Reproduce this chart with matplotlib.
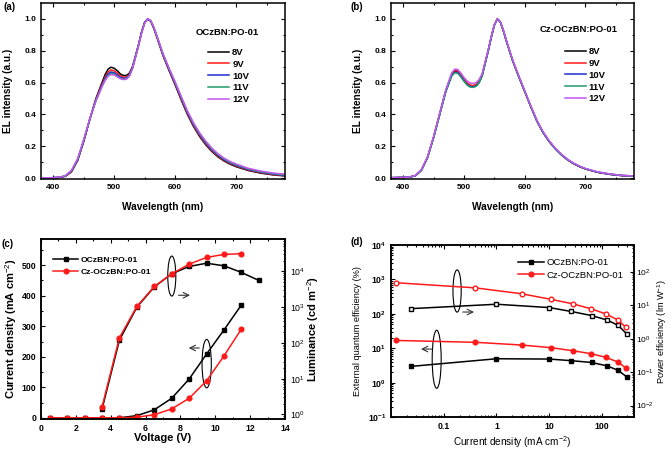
import matplotlib
matplotlib.use('Agg')
import matplotlib.pyplot as plt
from matplotlib.patches import Ellipse

plt.rcParams['font.family'] = ['Liberation Sans', 'DejaVu Sans']
plt.rcParams['mathtext.fontset'] = 'custom'
plt.rcParams['mathtext.rm'] = 'Liberation Sans'
plt.rcParams['mathtext.bf'] = 'Liberation Sans:bold'

# ---- data: EL spectra (a) OCzBN:PO-01 ----
wl = [380, 400, 410, 420, 430, 440, 450, 460, 470, 480, 485, 490, 495, 500, 505,
      510, 515, 520, 525, 530, 540, 545, 550, 555, 560, 565, 570, 580, 590, 600,
      610, 620, 630, 640, 650, 660, 670, 680, 690, 700, 720, 740, 760, 780]
volt_labels = ['8V', '9V', '10V', '11V', '12V']

a_8v = [0.002, 0.003, 0.005, 0.012, 0.040, 0.110, 0.230, 0.370, 0.500, 0.600, 0.650, 0.685, 0.697, 0.690, 0.675,
        0.655, 0.645, 0.645, 0.660, 0.700, 0.840, 0.920, 0.980, 1.000, 0.985, 0.940, 0.885, 0.770, 0.675, 0.585,
        0.490, 0.400, 0.325, 0.262, 0.210, 0.168, 0.134, 0.108, 0.088, 0.072, 0.048, 0.032, 0.021, 0.014]
a_9v = [0.002, 0.003, 0.005, 0.013, 0.042, 0.112, 0.232, 0.370, 0.495, 0.590, 0.635, 0.667, 0.680, 0.674, 0.660,
        0.643, 0.634, 0.635, 0.652, 0.695, 0.838, 0.918, 0.978, 1.000, 0.986, 0.942, 0.888, 0.773, 0.679, 0.590,
        0.496, 0.406, 0.331, 0.268, 0.216, 0.173, 0.139, 0.112, 0.092, 0.076, 0.051, 0.035, 0.023, 0.016]
a_10v = [0.002, 0.003, 0.005, 0.014, 0.045, 0.115, 0.235, 0.370, 0.490, 0.582, 0.625, 0.655, 0.667, 0.662, 0.649,
         0.634, 0.627, 0.629, 0.647, 0.692, 0.836, 0.916, 0.977, 1.000, 0.987, 0.944, 0.890, 0.776, 0.683, 0.595,
         0.502, 0.412, 0.337, 0.274, 0.222, 0.178, 0.144, 0.116, 0.096, 0.080, 0.054, 0.038, 0.026, 0.018]
a_11v = [0.002, 0.003, 0.006, 0.015, 0.047, 0.118, 0.238, 0.372, 0.487, 0.577, 0.618, 0.646, 0.657, 0.653, 0.641,
         0.628, 0.621, 0.624, 0.643, 0.689, 0.835, 0.915, 0.976, 1.000, 0.988, 0.946, 0.892, 0.779, 0.687, 0.600,
         0.508, 0.418, 0.343, 0.280, 0.228, 0.184, 0.149, 0.121, 0.100, 0.084, 0.058, 0.041, 0.029, 0.021]
a_12v = [0.002, 0.003, 0.006, 0.016, 0.050, 0.122, 0.242, 0.374, 0.485, 0.574, 0.613, 0.640, 0.651, 0.648, 0.637,
         0.625, 0.619, 0.622, 0.642, 0.688, 0.834, 0.914, 0.975, 1.000, 0.989, 0.948, 0.894, 0.782, 0.690, 0.604,
         0.512, 0.423, 0.348, 0.285, 0.233, 0.189, 0.154, 0.126, 0.105, 0.089, 0.062, 0.045, 0.033, 0.025]

# ---- data: EL spectra (b) Cz-OCzBN:PO-01 ----
b_8v = [0.003, 0.005, 0.007, 0.015, 0.050, 0.130, 0.255, 0.400, 0.545, 0.650, 0.672, 0.668, 0.645, 0.617, 0.594,
        0.580, 0.576, 0.582, 0.603, 0.645, 0.800, 0.885, 0.960, 1.000, 0.980, 0.925, 0.860, 0.740, 0.640, 0.545,
        0.450, 0.360, 0.288, 0.232, 0.186, 0.148, 0.117, 0.092, 0.073, 0.058, 0.037, 0.024, 0.016, 0.012]
b_9v = [0.003, 0.005, 0.007, 0.015, 0.050, 0.130, 0.256, 0.402, 0.548, 0.655, 0.677, 0.673, 0.650, 0.622, 0.599,
        0.585, 0.582, 0.588, 0.608, 0.649, 0.802, 0.886, 0.961, 1.000, 0.981, 0.926, 0.861, 0.741, 0.641, 0.546,
        0.451, 0.361, 0.289, 0.233, 0.187, 0.149, 0.118, 0.093, 0.074, 0.059, 0.038, 0.025, 0.017, 0.012]
b_10v = [0.003, 0.005, 0.007, 0.015, 0.049, 0.128, 0.253, 0.398, 0.542, 0.645, 0.666, 0.662, 0.640, 0.612, 0.589,
         0.576, 0.573, 0.579, 0.600, 0.643, 0.799, 0.884, 0.960, 1.000, 0.980, 0.925, 0.860, 0.741, 0.641, 0.546,
         0.451, 0.361, 0.289, 0.233, 0.187, 0.149, 0.118, 0.093, 0.074, 0.059, 0.038, 0.025, 0.017, 0.013]
b_11v = [0.003, 0.005, 0.007, 0.015, 0.049, 0.128, 0.252, 0.396, 0.540, 0.642, 0.662, 0.658, 0.636, 0.609, 0.586,
         0.573, 0.570, 0.577, 0.599, 0.642, 0.799, 0.884, 0.960, 1.000, 0.981, 0.926, 0.861, 0.742, 0.642, 0.547,
         0.452, 0.362, 0.290, 0.234, 0.188, 0.150, 0.119, 0.094, 0.075, 0.060, 0.039, 0.026, 0.018, 0.014]
b_12v = [0.003, 0.005, 0.008, 0.017, 0.053, 0.134, 0.260, 0.406, 0.553, 0.662, 0.685, 0.682, 0.660, 0.633, 0.611,
         0.598, 0.595, 0.600, 0.619, 0.657, 0.806, 0.889, 0.962, 1.000, 0.983, 0.929, 0.865, 0.746, 0.646, 0.551,
         0.456, 0.366, 0.294, 0.238, 0.191, 0.153, 0.121, 0.096, 0.077, 0.061, 0.040, 0.027, 0.018, 0.014]

# ---- data: J-V-L (c) ----
v_j = [0.5, 1.5, 2.5, 3.5, 4.5, 5.5, 6.5, 7.5, 8.5, 9.5, 10.5, 11.5]
j_oczbn = [0, 0, 0, 0, 0, 7, 26, 64, 127, 209, 288, 370]
j_cz = [0, 0, 0, 0, 0, 2, 10, 29, 64, 121, 203, 291]
v_l_oczbn = [3.5, 4.5, 5.5, 6.5, 7.5, 8.5, 9.5, 10.5, 11.5, 12.5]
l_oczbn = [1.4, 120, 1000, 3700, 8600, 13800, 17000, 14400, 9400, 5600]
v_l_cz = [3.5, 4.5, 5.5, 6.5, 7.5, 8.5, 9.5, 10.5, 11.5]
l_cz = [1.6, 140, 1050, 3800, 8600, 16000, 24700, 30000, 31400]

# ---- data: efficiencies (d) ----
j_d_oczbn = [0.024, 1.0, 10, 26, 63, 125, 200, 290]
eqe_oczbn = [3.0, 5.0, 4.9, 4.4, 3.9, 3.1, 2.3, 1.5]
pe_oczbn = [7.9, 10.7, 8.5, 6.5, 4.9, 3.6, 2.5, 1.4]
j_d_cz = [0.0125, 0.4, 3.0, 10.7, 28.6, 62, 117, 200, 280]
eqe_cz = [17, 15, 12.5, 10.5, 8.5, 7.0, 5.5, 4.0, 2.7]
pe_cz = [47, 33, 22, 15, 10.9, 7.8, 5.5, 3.6, 2.2]

colors = ['black', '#ff1a1a', '#1f2fd0', '#1f9a6a', '#c455f5']

fig = plt.figure(figsize=(6.71, 4.53), dpi=100)
W, H = 671.0, 453.0


def box(l, t, r, b):
    return [l / W, 1 - b / H, (r - l) / W, (b - t) / H]


def style(ax, size=6):
    ax.tick_params(which='both', direction='in', top=True, right=True, labelsize=size, width=0.8)
    ax.tick_params(which='major', length=3)
    ax.tick_params(which='minor', length=1.6)
    for lab in ax.get_xticklabels() + ax.get_yticklabels():
        lab.set_fontweight('bold')
    for s in ax.spines.values():
        s.set_linewidth(1.1)


def style_right(ax2, size=6.3, pad=3.5):
    ax2.tick_params(which='both', direction='in', labelsize=size, width=0.8, pad=pad)
    ax2.tick_params(which='major', length=3)
    ax2.tick_params(which='minor', length=1.6)
    for s in ax2.spines.values():
        s.set_linewidth(1.1)


def spectrum_panel(ax, series):
    for ys, c, lab in zip(series, colors, volt_labels):
        ax.plot(wl, ys, color=c, lw=1.1, label=lab)
    ax.set_xlim(380, 780)
    ax.set_ylim(-0.005, 1.1)
    ax.set_xticks([400, 500, 600, 700])
    ax.set_xticks([450, 550, 650, 750], minor=True)
    ax.set_yticks([0.0, 0.2, 0.4, 0.6, 0.8, 1.0])
    ax.set_yticks([0.1, 0.3, 0.5, 0.7, 0.9], minor=True)
    ax.set_yticklabels(['0.0', '0.2', '0.4', '0.6', '0.8', '1.0'])
    style(ax)
    ax.set_xlabel('Wavelength (nm)', fontsize=7.3, fontweight='bold', labelpad=8)
    ax.set_ylabel('EL intensity (a.u.)', fontsize=7.3, fontweight='bold', labelpad=8)


# (a)
ax_a = fig.add_axes(box(41, 3, 285, 179))
spectrum_panel(ax_a, [a_8v, a_9v, a_10v, a_11v, a_12v])
ax_a.text(0.635, 0.835, 'OCzBN:PO-01', transform=ax_a.transAxes, fontsize=6.8, fontweight='bold',
          ha='left', va='center')
ax_a.legend(loc='upper left', bbox_to_anchor=(0.685, 0.745), frameon=False,
            prop={'weight': 'bold', 'size': 6.8}, handlelength=2.2, handletextpad=0.35,
            labelspacing=0.3, borderpad=0, borderaxespad=0)
fig.text(3 / W, 1 - 7 / H, '(a)', fontsize=7, fontweight='bold', va='center')

# (b)
ax_b = fig.add_axes(box(391, 3, 634, 179))
spectrum_panel(ax_b, [b_8v, b_9v, b_10v, b_11v, b_12v])
ax_b.text(0.61, 0.85, 'Cz-OCzBN:PO-01', transform=ax_b.transAxes, fontsize=6.8, fontweight='bold',
          ha='left', va='center')
ax_b.legend(loc='upper left', bbox_to_anchor=(0.715, 0.75), frameon=False,
            prop={'weight': 'bold', 'size': 6.8}, handlelength=2.2, handletextpad=0.35,
            labelspacing=0.3, borderpad=0, borderaxespad=0)
fig.text(351 / W, 1 - 7 / H, '(b)', fontsize=7, fontweight='bold', va='center')

# (c)
ax_c = fig.add_axes(box(41, 239.3, 285, 418.7))
ax_c.plot(v_j, j_oczbn, '-s', color='black', lw=1.1, ms=3.2, label='OCzBN:PO-01')
ax_c.plot(v_j, j_cz, '-o', color='#ff1a1a', lw=1.1, ms=3.4, label='Cz-OCzBN:PO-01')
ax_c.set_xlim(0, 14)
ax_c.set_ylim(-3, 585)
ax_c.set_xticks(range(0, 15, 2))
ax_c.set_xticks(range(1, 14, 2), minor=True)
ax_c.set_yticks([0, 100, 200, 300, 400, 500])
ax_c.set_yticks([50, 150, 250, 350, 450, 550], minor=True)
style(ax_c, 6.3)
ax_c.tick_params(right=False)
ax_c.set_xlabel('Voltage (V)', fontsize=8, fontweight='bold', labelpad=0)
ax_c.set_ylabel('Current density (mA cm$^{-2}$)', fontsize=8, fontweight='bold', labelpad=2)
ax_c.legend(loc='upper left', bbox_to_anchor=(0.049, 0.905), frameon=False,
            prop={'weight': 'bold', 'size': 6.1}, handlelength=3.0, handletextpad=0.3,
            labelspacing=0.45, borderpad=0, borderaxespad=0)
axc2 = ax_c.twinx()
axc2.plot(v_l_oczbn, l_oczbn, '-s', color='black', lw=1.1, ms=3.2)
axc2.plot(v_l_cz, l_cz, '-o', color='#ff1a1a', lw=1.1, ms=3.4)
axc2.set_yscale('log')
axc2.set_ylim(10 ** -0.12, 10 ** 4.9)
style_right(axc2)
axc2.set_ylabel('Luminance (cd m$^{-2}$)', fontsize=8, fontweight='bold', labelpad=0)
ax_c.add_patch(Ellipse((0.536, 0.795), 0.033, 0.223, transform=ax_c.transAxes, fill=False, lw=0.8))
ax_c.annotate('', xy=(0.622, 0.688), xytext=(0.552, 0.688), xycoords='axes fraction',
              arrowprops=dict(arrowstyle='->', lw=0.8, color='#333333'))
ax_c.add_patch(Ellipse((0.679, 0.307), 0.038, 0.27, transform=ax_c.transAxes, fill=False, lw=0.8))
ax_c.annotate('', xy=(0.594, 0.394), xytext=(0.66, 0.394), xycoords='axes fraction',
              arrowprops=dict(arrowstyle='->', lw=0.8, color='#333333'))
fig.text(2 / W, 1 - 244 / H, '(c)', fontsize=7, fontweight='bold', va='center')

# (d)
ax_d = fig.add_axes(box(391, 245, 634, 417.3))
ax_d.plot(j_d_oczbn, eqe_oczbn, '-s', color='black', lw=1.1, ms=3.2, label='OCzBN:PO-01')
ax_d.plot(j_d_cz, eqe_cz, '-o', color='#ff1a1a', lw=1.1, ms=3.4, label='Cz-OCzBN:PO-01')
ax_d.set_xscale('log')
ax_d.set_yscale('log')
ax_d.set_xlim(0.0101, 400)
ax_d.set_ylim(0.1, 1e4)
ax_d.set_xticks([0.1, 1, 10, 100])
ax_d.set_xticklabels(['0.1', '1', '10', '100'])
style(ax_d, 6.3)
ax_d.tick_params(right=False)
ax_d.set_xlabel('Current density (mA cm$^{-2}$)', fontsize=7.2, labelpad=2)
ax_d.set_ylabel('External quantum efficiency (%)', fontsize=6.6, labelpad=4)
ax_d.legend(loc='upper left', bbox_to_anchor=(0.521, 0.925), frameon=False,
            prop={'size': 6.8}, handlelength=2.8, handletextpad=0.3,
            labelspacing=0.4, borderpad=0, borderaxespad=0)
axd2 = ax_d.twinx()
axd2.plot(j_d_oczbn, pe_oczbn, '-s', color='black', lw=1.1, ms=3.2, mfc='white')
axd2.plot(j_d_cz, pe_cz, '-o', color='#ff1a1a', lw=1.1, ms=3.4, mfc='white')
axd2.set_yscale('log')
axd2.set_ylim(10 ** -2.35, 10 ** 2.8)
style_right(axd2, 6.0, pad=1.8)
axd2.set_ylabel('Power efficiency (lm W$^{-1}$)', fontsize=6.6, labelpad=0.5)
ax_d.add_patch(Ellipse((0.272, 0.733), 0.034, 0.245, transform=ax_d.transAxes, fill=False, lw=0.8))
ax_d.annotate('', xy=(0.353, 0.611), xytext=(0.284, 0.611), xycoords='axes fraction',
              arrowprops=dict(arrowstyle='->', lw=0.8, color='#333333'))
ax_d.add_patch(Ellipse((0.188, 0.337), 0.037, 0.337, transform=ax_d.transAxes, fill=False, lw=0.8))
ax_d.annotate('', xy=(0.112, 0.396), xytext=(0.181, 0.396), xycoords='axes fraction',
              arrowprops=dict(arrowstyle='->', lw=0.8, color='#333333'))
fig.text(351 / W, 1 - 242 / H, '(d)', fontsize=7, fontweight='bold', va='center')

fig.savefig('out.png', dpi=100)
